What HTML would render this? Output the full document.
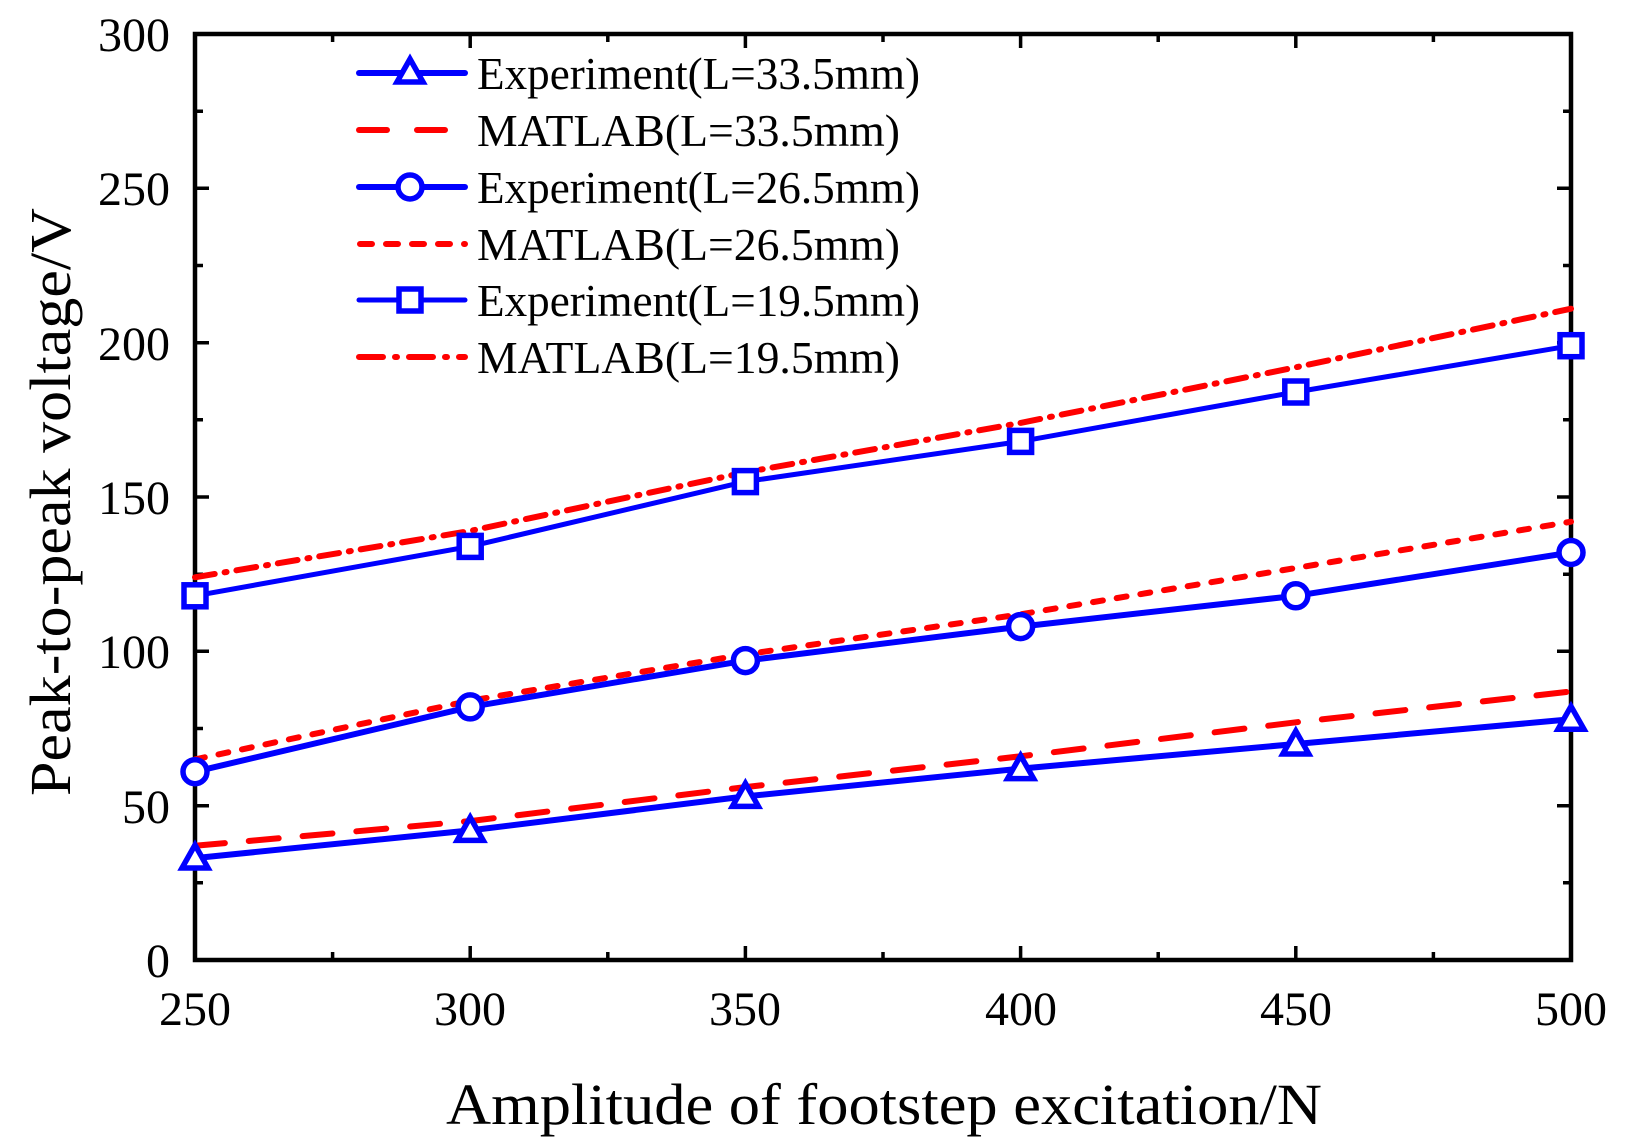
<!DOCTYPE html>
<html><head><meta charset="utf-8"><style>html,body{margin:0;padding:0;background:#fff}svg{display:block}text{font-family:"Liberation Serif",serif;fill:#000}</style></head>
<body>
<svg width="1630" height="1148" viewBox="0 0 1630 1148" xmlns="http://www.w3.org/2000/svg">
<rect x="195" y="34" width="1376" height="926" fill="none" stroke="#000" stroke-width="4.5"/>
<g stroke="#000" stroke-width="3.5">
<path d="M195 960v-14M470.2 960v-14M745.4 960v-14M1020.6 960v-14M1295.8 960v-14M1571 960v-14
M195 34v14M470.2 34v14M745.4 34v14M1020.6 34v14M1295.8 34v14M1571 34v14
M332.6 960v-8M607.8 960v-8M883 960v-8M1158.2 960v-8M1433.4 960v-8
M332.6 34v8M607.8 34v8M883 34v8M1158.2 34v8M1433.4 34v8
M195 960h14M195 805.7h14M195 651.3h14M195 497h14M195 342.7h14M195 188.3h14M195 34h14
M1571 960h-14M1571 805.7h-14M1571 651.3h-14M1571 497h-14M1571 342.7h-14M1571 188.3h-14M1571 34h-14
M195 882.8h8M195 728.5h8M195 574.2h8M195 419.8h8M195 265.5h8M195 111.2h8
M1571 882.8h-8M1571 728.5h-8M1571 574.2h-8M1571 419.8h-8M1571 265.5h-8M1571 111.2h-8"/>
</g>
<g font-size="48" text-anchor="end">
<text x="170" y="977">0</text>
<text x="170" y="823">50</text>
<text x="170" y="668">100</text>
<text x="170" y="514">150</text>
<text x="170" y="360">200</text>
<text x="170" y="205">250</text>
<text x="170" y="51">300</text>
</g>
<g font-size="48" text-anchor="middle">
<text x="195" y="1025">250</text>
<text x="470" y="1025">300</text>
<text x="745" y="1025">350</text>
<text x="1021" y="1025">400</text>
<text x="1296" y="1025">450</text>
<text x="1571" y="1025">500</text>
</g>
<text x="884" y="1124" font-size="58" text-anchor="middle" textLength="876" lengthAdjust="spacingAndGlyphs">Amplitude of footstep excitation/N</text>
<text transform="translate(70,502) rotate(-90)" font-size="58" text-anchor="middle" textLength="588" lengthAdjust="spacingAndGlyphs">Peak-to-peak voltage/V</text>

<g fill="none" stroke-linecap="round" stroke-linejoin="round">
<polyline stroke="#f00" stroke-width="6" stroke-dasharray="30 24" points="195,845.8 470.2,821.1 745.4,787.1 1020.6,756.3 1295.8,722.3 1571,691.5"/>
<polyline stroke="#f00" stroke-width="6" stroke-dasharray="10 14" points="195,759.4 470.2,700.7 745.4,654.4 1020.6,614.3 1295.8,568 1571,521.7"/>
<polyline stroke="#f00" stroke-width="6" stroke-dasharray="20 10 2 10" points="195,577.3 470.2,530.9 745.4,472.3 1020.6,422.9 1295.8,367.3 1571,308.7"/>
<polyline stroke="#00f" stroke-width="6" points="195,858.1 470.2,830.4 745.4,796.4 1020.6,768.6 1295.8,744 1571,719.3"/>
<polyline stroke="#00f" stroke-width="6" points="195,771.7 470.2,706.9 745.4,660.6 1020.6,626.6 1295.8,595.8 1571,552.5"/>
<polyline stroke="#00f" stroke-width="5" points="195,595.8 470.2,546.4 745.4,481.6 1020.6,441.4 1295.8,392 1571,345.7"/>
</g>
<g fill="#fff" stroke="#00f" stroke-width="5.5" stroke-linejoin="miter">
<path d="M195,845 l-13,23 h26 z"/>
<path d="M470.2,817.4 l-13,23 h26 z"/>
<path d="M745.4,783.4 l-13,23 h26 z"/>
<path d="M1020.6,755.6 l-13,23 h26 z"/>
<path d="M1295.8,731 l-13,23 h26 z"/>
<path d="M1571,706.3 l-13,23 h26 z"/>
<circle cx="195" cy="771.7" r="12"/>
<circle cx="470.2" cy="706.9" r="12"/>
<circle cx="745.4" cy="660.6" r="12"/>
<circle cx="1020.6" cy="626.6" r="12"/>
<circle cx="1295.8" cy="595.8" r="12"/>
<circle cx="1571" cy="552.5" r="12"/>
<rect x="184" y="584.8" width="22" height="22"/>
<rect x="459.2" y="535.4" width="22" height="22"/>
<rect x="734.4" y="470.6" width="22" height="22"/>
<rect x="1009.6" y="430.4" width="22" height="22"/>
<rect x="1284.8" y="381" width="22" height="22"/>
<rect x="1560" y="334.7" width="22" height="22"/>
</g>
<g fill="none" stroke-linecap="round">
<line x1="359" y1="73" x2="465" y2="73" stroke="#00f" stroke-width="6"/>
<line x1="359" y1="130" x2="465" y2="130" stroke="#f00" stroke-width="6" stroke-dasharray="28 30"/>
<line x1="359" y1="187" x2="465" y2="187" stroke="#00f" stroke-width="6"/>
<line x1="360" y1="244" x2="465" y2="244" stroke="#f00" stroke-width="6" stroke-dasharray="12 14"/>
<line x1="359" y1="300" x2="465" y2="300" stroke="#00f" stroke-width="5"/>
<line x1="359" y1="357" x2="465" y2="357" stroke="#f00" stroke-width="6" stroke-dasharray="24 12 2 12"/>
</g>
<g fill="#fff" stroke="#00f" stroke-width="5.5">
<path d="M410,59 l-13,23 h26 z"/>
<circle cx="410" cy="187" r="12"/>
<rect x="399" y="289" width="22" height="22"/>
</g>
<g font-size="46">
<text x="477" y="89" textLength="443" lengthAdjust="spacingAndGlyphs">Experiment(L=33.5mm)</text>
<text x="477" y="146" textLength="423" lengthAdjust="spacingAndGlyphs">MATLAB(L=33.5mm)</text>
<text x="477" y="203" textLength="443" lengthAdjust="spacingAndGlyphs">Experiment(L=26.5mm)</text>
<text x="477" y="260" textLength="423" lengthAdjust="spacingAndGlyphs">MATLAB(L=26.5mm)</text>
<text x="477" y="316" textLength="443" lengthAdjust="spacingAndGlyphs">Experiment(L=19.5mm)</text>
<text x="477" y="373" textLength="423" lengthAdjust="spacingAndGlyphs">MATLAB(L=19.5mm)</text>
</g>
</svg>
</body></html>
